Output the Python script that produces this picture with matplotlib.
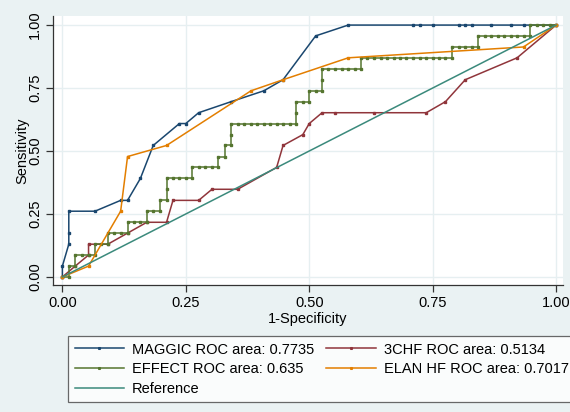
import matplotlib
matplotlib.use("Agg")
import matplotlib.pyplot as plt

plt.rcParams['font.family'] = ['Liberation Sans', 'DejaVu Sans']

# ---- data (1-Specificity, Sensitivity) ----
maggic_x = [0, 0, .013, .013, .013, .066, .118, .132, .158, .184, .237, .250, .276, .342,
            .408, .447, .513, .579, .711, .724, .750, .803, .816, .829, .868, .908, .934, 1.0]
maggic_y = [0, .043, .130, .174, .261, .261, .304, .304, .391, .522, .609, .609, .652, .696,
            .739, .783, .957, 1.0, 1.0, 1.0, 1.0, 1.0, 1.0, 1.0, 1.0, 1.0, 1.0, 1.0]

chf_x = [0, .026, .053, .053, .092, .132, .171, .211, .224, .276, .303, .355, .434, .447,
         .487, .500, .526, .553, .632, .737, .776, .816, .921, 1.0]
chf_y = [0, .043, .087, .130, .130, .174, .217, .217, .304, .304, .348, .348, .435, .522,
         .565, .609, .652, .652, .652, .652, .696, .783, .870, 1.0]

effect_x = [0, .013, .013, .026, .026, .039, .053, .066, .066, .079, .092, .092, .105, .118,
            .132, .132, .145, .158, .171, .171, .184, .197, .197, .211, .211, .211, .224, .237,
            .250, .263, .263, .276, .289, .303, .316, .316, .329, .329, .342, .342, .342, .355,
            .368, .382, .395, .408, .421, .434, .447, .461, .474, .474, .474, .487, .500, .500,
            .513, .526, .526, .526, .539, .553, .566, .579, .592, .605, .605, .618, .632, .645,
            .658, .671, .684, .697, .711, .724, .737, .750, .763, .776, .789, .789, .803, .816,
            .829, .842, .842, .855, .868, .882, .895, .908, .921, .934, .947, .947, .961, .974,
            .987, 1.0]
effect_y = [0, 0, .043, .043, .087, .087, .087, .087, .130, .130, .130, .174, .174, .174,
            .174, .217, .217, .217, .217, .261, .261, .261, .304, .304, .348, .391, .391, .391,
            .391, .391, .435, .435, .435, .435, .435, .478, .478, .522, .522, .565, .609, .609,
            .609, .609, .609, .609, .609, .609, .609, .609, .609, .652, .696, .696, .696, .739,
            .739, .739, .783, .826, .826, .826, .826, .826, .826, .826, .870, .870, .870, .870,
            .870, .870, .870, .870, .870, .870, .870, .870, .870, .870, .870, .913, .913, .913,
            .913, .913, .957, .957, .957, .957, .957, .957, .957, .957, .957, 1.0, 1.0, 1.0,
            1.0, 1.0]

elan_x = [0, .053, .118, .132, .211, .382, .447, .579, .934, 1.0]
elan_y = [0, .043, .261, .478, .522, .739, .783, .870, .913, 1.0]

ref_x = [0, 1]
ref_y = [0, 1]

labels = ["MAGGIC ROC area: 0.7735", "3CHF ROC area: 0.5134",
          "EFFECT ROC area: 0.635", "ELAN HF ROC area: 0.7017", "Reference"]
ticks = [0.0, 0.25, 0.5, 0.75, 1.0]
tick_labels = ["0.00", "0.25", "0.50", "0.75", "1.00"]

c_maggic = '#1a476f'
c_chf = '#90353b'
c_effect = '#55752f'
c_elan = '#e37e00'
c_ref = '#3b8a7c'

fig = plt.figure(figsize=(5.70, 4.12), dpi=100, facecolor='#eaf2f3')
ax = fig.add_axes([53/570, 1 - 285/412, 510/570, 269/412])
ax.set_facecolor('white')

kw = dict(lw=1.1, marker='s', markersize=2.0)
h1, = ax.plot(maggic_x, maggic_y, color=c_maggic, **kw)
h2, = ax.plot(chf_x, chf_y, color=c_chf, **kw)
h3, = ax.plot(effect_x, effect_y, color=c_effect, **kw)
h4, = ax.plot(elan_x, elan_y, color=c_elan, **kw)
h5, = ax.plot(ref_x, ref_y, color=c_ref, lw=1.1)

ax.set_xlim(-0.019, 1.014)
ax.set_ylim(-0.032, 1.036)
ax.set_xticks(ticks)
ax.set_xticklabels(tick_labels)
ax.set_yticks(ticks)
ax.set_yticklabels(tick_labels, rotation=90, va='center')
ax.tick_params(axis='both', direction='out', length=5, width=0.9, color='#333333',
               labelsize=10.5, pad=3)
ax.grid(True, color='#e6eff1', lw=1.0)
ax.set_axisbelow(True)
for s in ['top', 'right']:
    ax.spines[s].set_visible(False)
for s in ['left', 'bottom']:
    ax.spines[s].set_color('#333333')
    ax.spines[s].set_linewidth(0.9)

ax.set_xlabel("1-Specificity", fontsize=10.5, labelpad=1)
ax.set_ylabel("Sensitivity", fontsize=10.5, labelpad=-1)

leg = fig.legend([h1, h3, h5, h2, h4],
                 [labels[0], labels[2], labels[4], labels[1], labels[3]],
                 ncol=2, loc='upper left', bbox_to_anchor=(68/570, 1 - 336/412),
                 frameon=True, fancybox=False, edgecolor='#444444', facecolor='white',
                 fontsize=10.5, handlelength=3.4, handletextpad=0.55, columnspacing=0.8,
                 labelspacing=0.38, borderpad=0.45, borderaxespad=0, numpoints=1,
                 markerscale=0.6)
leg.get_frame().set_linewidth(0.9)

fig.savefig("out.png", dpi=100, facecolor=fig.get_facecolor())
